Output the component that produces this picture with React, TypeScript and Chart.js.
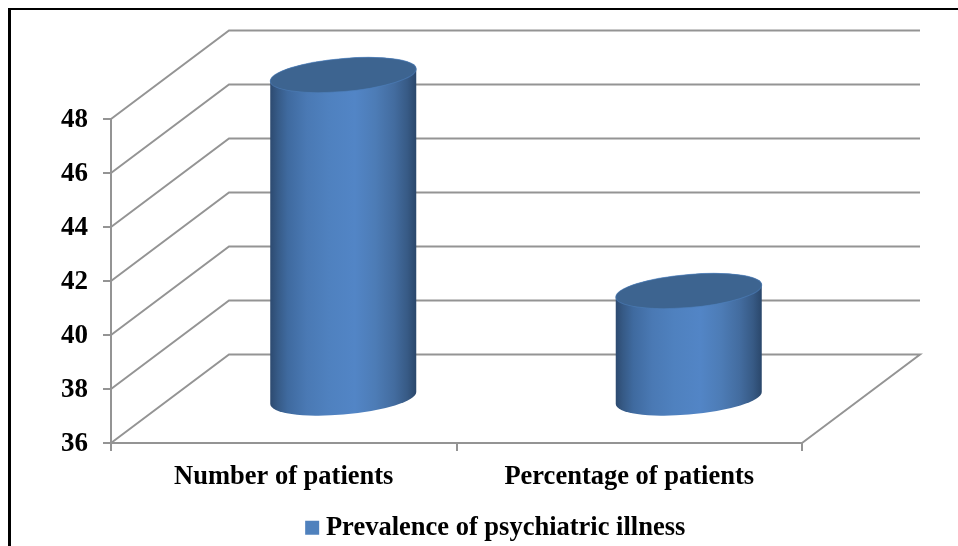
import React, { useEffect, useRef } from "react";
import { Chart, registerables } from "chart.js";

Chart.register(...registerables);

const categories = ["Number of patients", "Percentage of patients"];
const seriesName = "Prevalence of psychiatric illness";
const seriesValues = [48, 40];
const yMin = 36;
const yMax = 48;
const yStep = 2;

const FONT = "'Liberation Serif'";
const GRID = "#949494";
const BACK_DX = 118;
const BACK_DY = -88.5;
const BAR_DX = 59.5;
const BAR_DY = -44;

const walls = {
  id: "walls",
  beforeDraw(chart: any) {
    const { ctx, width, height } = chart;
    ctx.save();
    ctx.fillStyle = "#000";
    ctx.fillRect(8, 8, 3, height - 8);
    ctx.fillRect(8, 8, width - 8, 2);
    ctx.restore();
  },
  beforeDatasetsDraw(chart: any) {
    const { ctx, chartArea, scales } = chart;
    const { left, right } = chartArea;
    ctx.save();
    ctx.strokeStyle = GRID;
    ctx.lineJoin = "miter";
    for (let v = yMin; v <= yMax; v += yStep) {
      const y = scales.y.getPixelForValue(v);
      ctx.lineWidth = 2;
      ctx.beginPath();
      ctx.moveTo(left, y);
      ctx.lineTo(left + BACK_DX, y + BACK_DY);
      ctx.lineTo(right + BACK_DX, y + BACK_DY);
      if (v === yMin) ctx.lineTo(right, y);
      ctx.stroke();
    }
    ctx.restore();
  },
};

const cylinders = {
  id: "cylinders",
  afterDatasetsDraw(chart: any) {
    const { ctx } = chart;
    const meta = chart.getDatasetMeta(0);
    for (const bar of meta.data) {
      const a = bar.width / 2;
      const cx = bar.x + BAR_DX;
      const topY = bar.y + BAR_DY;
      const botY = bar.base + BAR_DY;
      const slope = -12 / 146;
      const b = 16.6;

      const grad = ctx.createLinearGradient(cx - a, 0, cx + a, 0);
      grad.addColorStop(0, "#2d4a70");
      grad.addColorStop(0.05, "#365a86");
      grad.addColorStop(0.12, "#3f6a9f");
      grad.addColorStop(0.25, "#4a79b4");
      grad.addColorStop(0.4, "#4f81bf");
      grad.addColorStop(0.58, "#5285c6");
      grad.addColorStop(0.72, "#4d7cb6");
      grad.addColorStop(0.85, "#436c9f");
      grad.addColorStop(0.94, "#375a85");
      grad.addColorStop(1, "#2a476b");

      // body: the side down to the front half of the base ellipse
      ctx.save();
      ctx.beginPath();
      ctx.save();
      ctx.transform(1, slope, 0, 1, cx, botY);
      ctx.ellipse(0, 0, a, b, 0, Math.PI, 0, true);
      ctx.restore();
      ctx.save();
      ctx.transform(1, slope, 0, 1, cx, topY);
      ctx.ellipse(0, 0, a, b, 0, 0, Math.PI, true);
      ctx.restore();
      ctx.closePath();
      ctx.fillStyle = grad;
      ctx.fill();
      ctx.restore();

      // lid
      ctx.save();
      ctx.transform(1, slope, 0, 1, cx, topY);
      ctx.beginPath();
      ctx.ellipse(0, 0, a, b, 0, 0, Math.PI * 2);
      ctx.fillStyle = "#3d6490";
      ctx.fill();
      ctx.lineWidth = 1;
      ctx.strokeStyle = "rgba(79,129,189,0.6)";
      ctx.stroke();
      ctx.restore();
    }
  },
};

const placeLegend = {
  id: "placeLegend",
  afterLayout(chart: any) {
    const legend = chart.legend;
    legend.left = 0;
    legend.right = 997;
    legend.top += 5;
    legend.bottom += 5;
  },
};

export default function App() {
  const ref = useRef<HTMLCanvasElement | null>(null);
  useEffect(() => {
    if (!ref.current) return;
    const chart = new Chart(ref.current, {
      type: "bar",
      plugins: [walls, cylinders, placeLegend],
      data: {
        labels: categories,
        datasets: [
          {
            label: seriesName,
            data: seriesValues,
            base: yMin,
            backgroundColor: "rgba(0,0,0,0)",
            barPercentage: 0.4226,
            categoryPercentage: 1,
          },
        ],
      },
      options: {
        responsive: false,
        animation: false,
        layout: { padding: { left: 0, right: 156, top: 119, bottom: 0 } },
        plugins: {
          tooltip: { enabled: false },
          legend: {
            position: "bottom",
            labels: {
              color: "#000",
              font: { family: FONT, weight: "bold", size: 26.5 },
              boxWidth: 1,
              boxHeight: 1,
              padding: 4,
              generateLabels: () => [
                {
                  text: seriesName,
                  fillStyle: "#4f81bd",
                  strokeStyle: "#4f81bd",
                  lineWidth: 13,
                  datasetIndex: 0,
                },
              ],
            },
          },
        },
        scales: {
          x: {
            afterFit(scale: any) {
              scale.height = 103 - (scale.chart.legend?.height ?? 40);
            },
            border: { color: GRID, width: 2 },
            grid: { drawOnChartArea: false, drawTicks: true, tickLength: 8, color: GRID, lineWidth: 2 },
            ticks: {
              color: "#000",
              maxRotation: 0,
              padding: 10,
              font: { family: FONT, weight: "bold", size: 26.5 },
            },
          },
          y: {
            min: yMin,
            max: yMax,
            afterFit(scale: any) {
              scale.width = 111;
            },
            border: { color: GRID, width: 2 },
            grid: { drawOnChartArea: false, drawTicks: true, tickLength: 8, color: GRID, lineWidth: 2 },
            ticks: {
              stepSize: yStep,
              color: "#000",
              padding: 15,
              labelOffset: 1.5,
              font: { family: FONT, weight: "bold", size: 27 },
            },
          },
        },
      },
    } as any);
    return () => chart.destroy();
  }, []);
  return (
    <div style={{ position: "fixed", left: 0, top: 0, width: 958, height: 546, background: "#fff" }}>
      <canvas ref={ref} width={958} height={546} style={{ display: "block" }} />
    </div>
  );
}
